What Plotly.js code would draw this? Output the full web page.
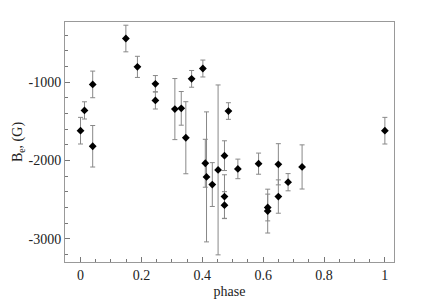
<!DOCTYPE html>
<html>
<head>
<meta charset="utf-8">
<script src="https://cdn.plot.ly/plotly-3.0.1.min.js"></script>
<style>html,body{margin:0;padding:0;background:#fff;}#chart{width:424px;height:300px;}</style>
</head>
<body>
<div id="chart"></div>
<script>
const phase = [0.0, 0.013, 0.040, 0.040, 0.149, 0.187, 0.246, 0.246, 0.310, 0.331, 0.346, 0.365, 0.402, 0.410, 0.414, 0.433, 0.452, 0.473, 0.473, 0.473, 0.486, 0.517, 0.585, 0.615, 0.615, 0.650, 0.650, 0.682, 0.728, 1.0];
const Be = [-1620, -1361, -1029, -1819, -443, -805, -1021, -1233, -1344, -1335, -1710, -958, -826, -2036, -2210, -2308, -2121, -1939, -2461, -2571, -1369, -2108, -2041, -2601, -2647, -2049, -2461, -2278, -2083, -1620];
const BeErr = [170, 110, 170, 265, 170, 135, 105, 110, 390, 215, 460, 107, 108, 306, 830, 280, 1085, 190, 278, 172, 106, 125, 135, 171, 280, 263, 213, 110, 282, 170];
const xTicks = [0, 0.2, 0.4, 0.6, 0.8, 1];
const xTickText = ['0', '0.2', '0.4', '0.6', '0.8', '1'];
const yTicks = [-3000, -2000, -1000];
const yTickText = ['-3000', '-2000', '-1000'];

const font = {family: "'Liberation Serif', 'Times New Roman', Times, serif", size: 14, color: '#222'};
const trace = {
  x: phase, y: Be, type: 'scatter', mode: 'markers',
  marker: {symbol: 'diamond', size: 6, color: '#000'},
  error_y: {type: 'data', array: BeErr, visible: true, color: '#888', thickness: 1, width: 2.5}
};
const layout = {
  width: 424, height: 300,
  margin: {l: 64.5, r: 29.7, t: 21.7, b: 37.7},
  paper_bgcolor: '#fff', plot_bgcolor: '#fff',
  showlegend: false,
  font: font,
  xaxis: {
    range: [-0.051, 1.030], tickvals: xTicks, ticktext: xTickText,
    ticks: 'inside', ticklen: 5, tickcolor: '#777', tickwidth: 1,
    minor: {dtick: 0.05, tick0: 0, ticks: 'inside', ticklen: 3, tickcolor: '#777'},
    showline: true, linecolor: '#999', linewidth: 1, mirror: true,
    showgrid: false, zeroline: false, tickfont: font,
    title: {text: 'phase', font: font, standoff: 4}
  },
  yaxis: {
    range: [-3297, -232], tickvals: yTicks, ticktext: yTickText,
    ticks: 'inside', ticklen: 5, tickcolor: '#777', tickwidth: 1,
    minor: {dtick: 200, tick0: 0, ticks: 'inside', ticklen: 3, tickcolor: '#777'},
    showline: true, linecolor: '#999', linewidth: 1, mirror: true,
    showgrid: false, zeroline: false, tickfont: font,
    title: {text: 'B<sub>e</sub>, (G)', font: font, standoff: 2}
  }
};
Plotly.newPlot('chart', [trace], layout, {displayModeBar: false, staticPlot: true});
</script>
</body>
</html>
